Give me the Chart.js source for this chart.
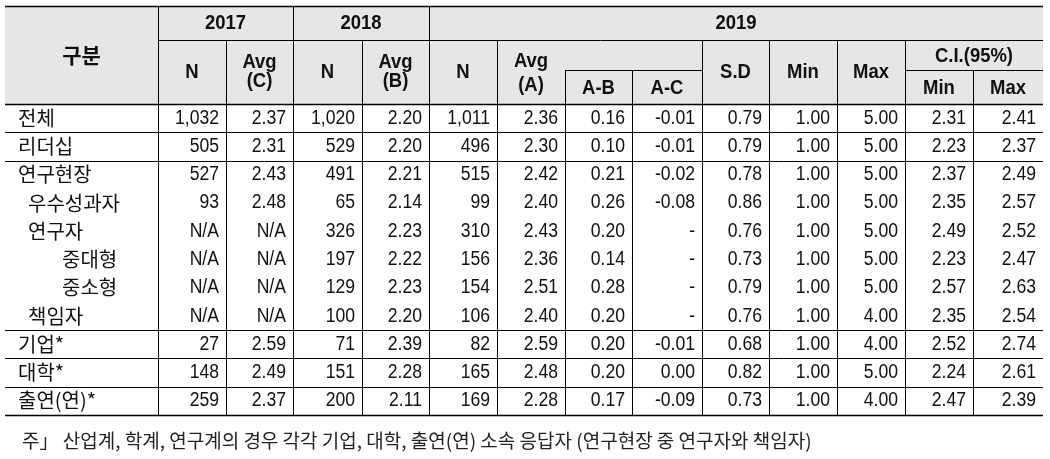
<!DOCTYPE html>
<html>
<head>
<meta charset="utf-8">
<script src="https://cdn.jsdelivr.net/npm/chart.js@4/dist/chart.umd.min.js"></script>
<style>
  html, body { margin: 0; padding: 0; background: #fff; }
  #wrap { width: 1050px; height: 459px; }
</style>
</head>
<body>
<div id="wrap"><canvas id="tableChart" width="1050" height="459"></canvas></div>
<script>
// table values
const categories = ['전체', '리더십', '연구현장', '우수성과자', '연구자', '중대형', '중소형', '책임자', '기업*', '대학*', '출연(연)*'];
const catLevel = [0, 0, 0, 1, 1, 2, 2, 1, 0, 0, 0];
const n2017 = [1032, 505, 527, 93, null, null, null, null, 27, 148, 259];
const avg2017 = [2.37, 2.31, 2.43, 2.48, null, null, null, null, 2.59, 2.49, 2.37];
const n2018 = [1020, 529, 491, 65, 326, 197, 129, 100, 71, 151, 200];
const avg2018 = [2.20, 2.20, 2.21, 2.14, 2.23, 2.22, 2.23, 2.20, 2.39, 2.28, 2.11];
const n2019 = [1011, 496, 515, 99, 310, 156, 154, 106, 82, 165, 169];
const avg2019 = [2.36, 2.30, 2.42, 2.40, 2.43, 2.36, 2.51, 2.40, 2.59, 2.48, 2.28];
const diffAB = [0.16, 0.10, 0.21, 0.26, 0.20, 0.14, 0.28, 0.20, 0.20, 0.20, 0.17];
const diffAC = [-0.01, -0.01, -0.02, -0.08, null, null, null, null, -0.01, 0.00, -0.09];
const sd2019 = [0.79, 0.79, 0.78, 0.86, 0.76, 0.73, 0.79, 0.76, 0.68, 0.82, 0.73];
const min2019 = [1, 1, 1, 1, 1, 1, 1, 1, 1, 1, 1];
const max2019 = [5, 5, 5, 5, 5, 5, 5, 4, 4, 5, 4];
const ciMin = [2.31, 2.23, 2.37, 2.35, 2.49, 2.23, 2.57, 2.35, 2.52, 2.24, 2.47];
const ciMax = [2.41, 2.37, 2.49, 2.57, 2.52, 2.47, 2.63, 2.54, 2.74, 2.61, 2.39];
const groupEnds = [0, 1, 7, 8, 9, 10];
const footnote = '주」 산업계, 학계, 연구계의 경우 각각 기업, 대학, 출연(연) 소속 응답자 (연구현장 중 연구자와 책임자)';

const fmtN = v => v == null ? 'N/A' : v.toLocaleString('en-US');
const fmt2 = v => v == null ? 'N/A' : v.toFixed(2);
const fmtDash = v => v == null ? '-' : v.toFixed(2);

const columns = [
  { vals: n2017, fmt: fmtN }, { vals: avg2017, fmt: fmt2 },
  { vals: n2018, fmt: fmtN }, { vals: avg2018, fmt: fmt2 },
  { vals: n2019, fmt: fmtN }, { vals: avg2019, fmt: fmt2 },
  { vals: diffAB, fmt: fmt2 }, { vals: diffAC, fmt: fmtDash },
  { vals: sd2019, fmt: fmt2 }, { vals: min2019, fmt: fmt2 },
  { vals: max2019, fmt: fmt2 }, { vals: ciMin, fmt: fmt2 },
  { vals: ciMax, fmt: fmt2 }
];

// layout (scale units == pixels)
const colEdges = [5, 158, 226, 293, 362, 429, 497, 565, 632, 702, 769, 837, 905, 973, 1043];
const headTop = 6, headMid1 = 40, headMid2 = 70, bodyTop = 104, rowH = 28.27;

const NUM_FONT = '20px "Liberation Sans", Arial, sans-serif';
const HEAD_FONT = 'bold 21px "Liberation Sans", Arial, sans-serif';
const KO_FONT = '20px "Noto Sans CJK KR", sans-serif';
const NARROW = 0.88;

const tablePlugin = {
  id: 'tableDraw',
  afterDraw(chart) {
    const ctx = chart.ctx;
    const xs = chart.scales.x, ys = chart.scales.y;
    const X = v => xs.getPixelForValue(v);
    const Y = v => ys.getPixelForValue(v);
    const rowY = i => bodyTop + rowH * i;
    const bodyBottom = rowY(categories.length);
    const left = colEdges[0], right = colEdges[colEdges.length - 1];

    ctx.save();
    // header background
    ctx.fillStyle = '#e6e6e6';
    ctx.fillRect(X(left), Y(headTop), X(right) - X(left), Y(bodyTop) - Y(headTop));

    ctx.strokeStyle = '#000';
    const hline = (y, x0, x1, w) => {
      ctx.lineWidth = w || 1;
      ctx.beginPath(); ctx.moveTo(X(x0), Math.round(Y(y)) + 0.5); ctx.lineTo(X(x1), Math.round(Y(y)) + 0.5); ctx.stroke();
    };
    const vline = (x, y0, y1) => {
      ctx.lineWidth = 1;
      ctx.beginPath(); ctx.moveTo(Math.round(X(x)) + 0.5, Y(y0)); ctx.lineTo(Math.round(X(x)) + 0.5, Y(y1)); ctx.stroke();
    };

    hline(headTop, left, right, 1.5);
    hline(headMid1, colEdges[1], right);
    hline(headMid2, colEdges[7], colEdges[9]);
    hline(headMid2, colEdges[12], right);
    hline(bodyTop, left, right, 1.5);
    groupEnds.forEach(i => hline(rowY(i + 1), left, right, i === categories.length - 1 ? 1.5 : 1));

    // vertical lines: header part then body
    [1, 3, 5].forEach(c => vline(colEdges[c], headTop, bodyTop));
    [2, 4, 6, 9, 10, 11, 12].forEach(c => vline(colEdges[c], headMid1, bodyTop));
    [7, 8, 13].forEach(c => vline(colEdges[c], headMid2, bodyTop));
    for (let c = 1; c < colEdges.length - 1; c++) vline(colEdges[c], bodyTop, bodyBottom);

    ctx.fillStyle = '#111';
    ctx.textBaseline = 'middle';
    const mid = (a, b) => (colEdges[a] + colEdges[b]) / 2;
    // latin text is a bit condensed in the source, so squeeze it horizontally
    const txt = (s, x, y, font, sx) => {
      ctx.save();
      ctx.font = font;
      ctx.translate(X(x), Y(y));
      ctx.scale(sx || 1, 1);
      ctx.fillText(s, 0, 0);
      ctx.restore();
    };
    const head = (s, a, b, y) => txt(s, mid(a, b), y, HEAD_FONT, NARROW);

    // header text
    ctx.textAlign = 'center';
    txt('구분', mid(0, 1), 55, 'bold 21px "Noto Sans CJK KR", sans-serif');
    head('2017', 1, 3, 23);
    head('2018', 3, 5, 23);
    head('2019', 5, 14, 23);
    head('N', 1, 2, 72);
    head('Avg', 2, 3, 62); head('(C)', 2, 3, 81);
    head('N', 3, 4, 72);
    head('Avg', 4, 5, 62); head('(B)', 4, 5, 81);
    head('N', 5, 6, 72);
    head('Avg', 6, 7, 61); head('(A)', 6, 7, 85);
    head('A-B', 7, 8, 88);
    head('A-C', 8, 9, 88);
    head('S.D', 9, 10, 72);
    head('Min', 10, 11, 72);
    head('Max', 11, 12, 72);
    head('C.I.(95%)', 12, 14, 56);
    head('Min', 12, 13, 88);
    head('Max', 13, 14, 88);

    // body
    categories.forEach((cat, i) => {
      const cy = rowY(i) + rowH / 2;
      ctx.textAlign = 'left';
      txt(cat, 18 + [0, 10, 44][catLevel[i]], cy, KO_FONT);
      ctx.textAlign = 'right';
      columns.forEach((col, c) => {
        txt(col.fmt(col.vals[i]), colEdges[c + 2] - 7, cy, NUM_FONT, NARROW);
      });
    });

    // footnote
    ctx.textAlign = 'left';
    ctx.fillStyle = '#222';
    txt(footnote, 22, 441, '19px "Noto Sans CJK KR", sans-serif');
    ctx.restore();
  }
};

const ctx = document.getElementById('tableChart').getContext('2d');
const tableChart = new Chart(ctx, {
  type: 'scatter',
  data: { datasets: [{ data: [], pointRadius: 0 }] },
  options: {
    responsive: false,
    animation: false,
    layout: { padding: 0 },
    plugins: { legend: { display: false }, tooltip: { enabled: false } },
    scales: {
      x: { type: 'linear', min: 0, max: 1050, display: false },
      y: { type: 'linear', min: 0, max: 459, reverse: true, display: false }
    }
  },
  plugins: [tablePlugin]
});
</script>
</body>
</html>
